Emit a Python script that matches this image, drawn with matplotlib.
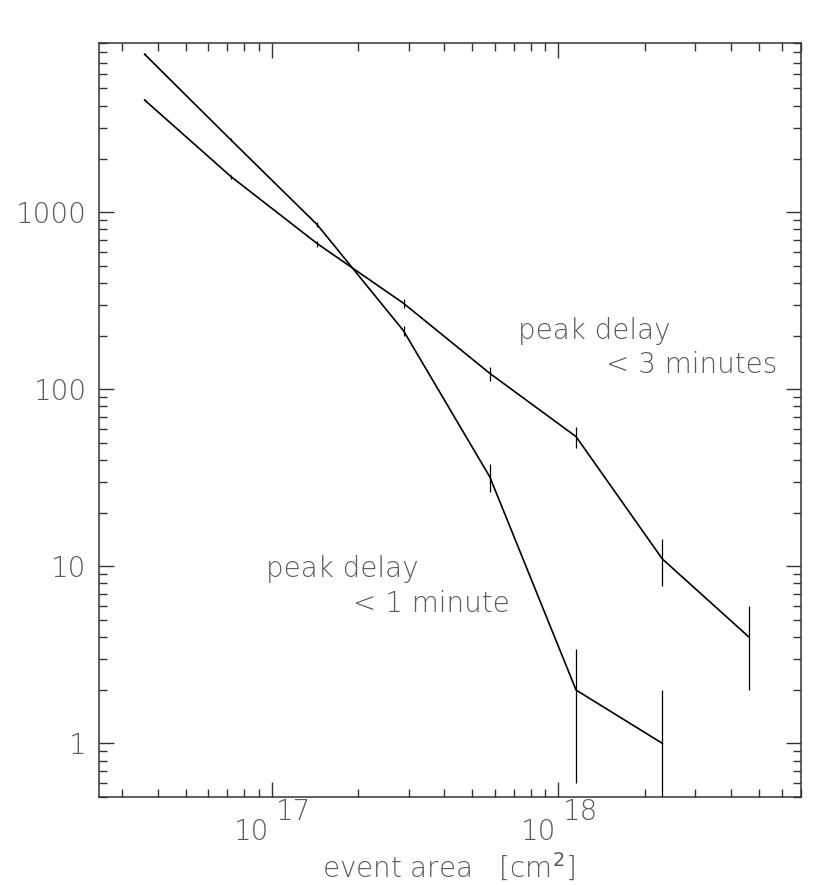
import numpy as np
import matplotlib
matplotlib.use('Agg')
import matplotlib.pyplot as plt
import matplotlib.transforms as mtransforms
from matplotlib.ticker import LogLocator, NullFormatter, FixedLocator

# event area bins [cm^2]
area = [3.6e16, 7.2e16, 1.44e17, 2.88e17, 5.76e17, 1.152e18, 2.304e18, 4.608e18]

# peak delay < 3 minutes
n_3min = [4300, 1590, 665, 306, 123, 54, 11, 4]
err_3min = [66, 40, 26, 17.5, 11, 7.3, 3.3, 2.0]

# peak delay < 1 minute
n_1min = [7800, 2560, 850, 214, 32, 2, 1]
err_1min = [88, 51, 29, 14.6, 5.7, 1.4, 1.0]

txt_color = '#5a5a5a'
fw = 200
fs = 20

fig = plt.figure(figsize=(8.3, 8.85), dpi=100)
ax = fig.add_axes([0.1196, 0.0998, 0.8451, 0.8513])

for y, e in [(n_3min, err_3min), (n_1min, err_1min)]:
    x = np.array(area[:len(y)])
    y = np.array(y, dtype=float)
    e = np.array(e, dtype=float)
    lo = np.minimum(e, y * 0.999)  # keep lower end > 0 on log axis
    ax.plot(x, y, color='black', lw=1.2)
    ax.errorbar(x, y, yerr=[lo, e], fmt='none', ecolor='black', elinewidth=0.9, capsize=0)

ax.set_xscale('log')
ax.set_yscale('log')
ax.set_xlim(2.5e16, 7e18)
ax.set_ylim(0.5, 9000)

ax.yaxis.set_major_locator(FixedLocator([1, 10, 100, 1000]))
ax.yaxis.set_minor_locator(LogLocator(base=10, subs=np.arange(2, 10)))
ax.set_yticklabels(['1', '10', '100', '1000'])
ax.yaxis.set_minor_formatter(NullFormatter())

ax.xaxis.set_major_locator(FixedLocator([1e17, 1e18]))
ax.xaxis.set_minor_locator(LogLocator(base=10, subs=np.arange(2, 10)))
ax.xaxis.set_major_formatter(NullFormatter())
ax.xaxis.set_minor_formatter(NullFormatter())

ax.tick_params(which='both', direction='in', top=True, right=True, color='#333333', width=1.0)
ax.tick_params(which='major', length=10.5)
ax.tick_params(which='minor', length=5.5)
ax.tick_params(axis='y', which='major', labelsize=fs, labelcolor=txt_color, pad=9)
for lab in ax.get_yticklabels():
    lab.set_fontweight(fw)
for s in ax.spines.values():
    s.set_color('#333333')
    s.set_linewidth(1.1)

# x tick labels drawn as "10" with a full-size exponent, like the original
trans = mtransforms.blended_transform_factory(ax.transData, ax.transAxes)
for val, ex in [(1e17, '17'), (1e18, '18')]:
    t1 = mtransforms.offset_copy(trans, fig=fig, x=-1.5, y=-31, units='points')
    ax.text(val, 0, '10', transform=t1, ha='right', va='baseline', fontsize=fs,
            color=txt_color, fontweight=fw)
    t2 = mtransforms.offset_copy(trans, fig=fig, x=3, y=-17, units='points')
    ax.text(val, 0, ex, transform=t2, ha='left', va='baseline', fontsize=fs,
            color=txt_color, fontweight=fw)

fig.text(0.541, 0.008, 'event area   [cm$^2$]', ha='center', va='baseline',
         fontsize=fs, color=txt_color, fontweight=fw)

ax.text(0.705, 0.607, 'peak delay', transform=ax.transAxes, ha='center', va='baseline',
        fontsize=fs, color=txt_color, fontweight=fw)
ax.text(0.844, 0.563, '< 3 minutes', transform=ax.transAxes, ha='center', va='baseline',
        fontsize=fs, color=txt_color, fontweight=fw)
ax.text(0.346, 0.292, 'peak delay', transform=ax.transAxes, ha='center', va='baseline',
        fontsize=fs, color=txt_color, fontweight=fw)
ax.text(0.474, 0.245, '< 1 minute', transform=ax.transAxes, ha='center', va='baseline',
        fontsize=fs, color=txt_color, fontweight=fw)

fig.savefig('out.png', dpi=100)
